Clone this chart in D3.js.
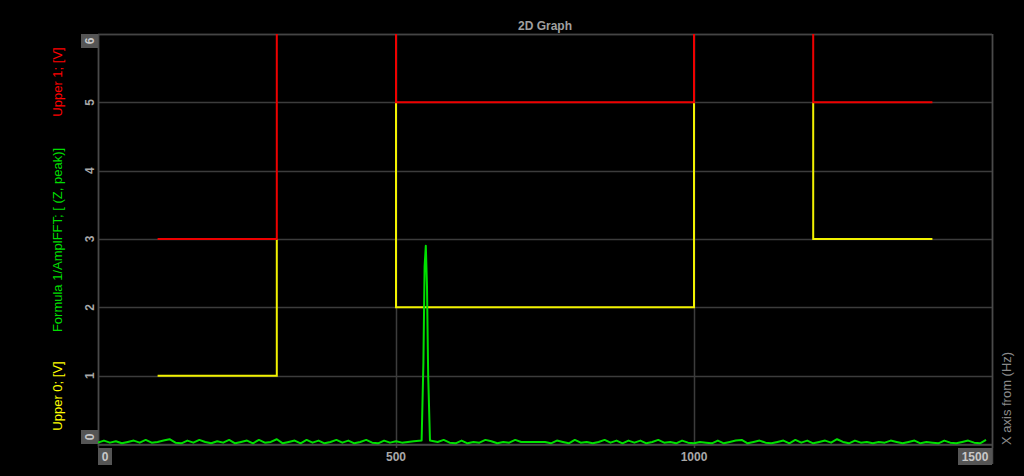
<!DOCTYPE html>
<html><head><meta charset="utf-8">
<script src="https://cdn.jsdelivr.net/npm/d3@7"></script>
<style>
html,body{margin:0;padding:0;background:#000;}
svg{display:block;font-family:"Liberation Sans",Arial,sans-serif;}
</style></head>
<body><svg id="chart" width="1024" height="476"></svg>
<script>
// ---- data ----
const title = "2D Graph";
const xTicks = [0, 500, 1000, 1500];
const yTicks = [0, 1, 2, 3, 4, 5, 6];
// Upper 1 limit line (values above 6 run off the top of the plot)
const upper1X = [100, 300, 300, null, 500, 500, 1000, 1000, null, 1200, 1200, 1400];
const upper1Y = [3, 3, 10, null, 10, 5, 5, 10, null, 10, 5, 5];
// Upper 0 limit line
const upper0X = [100, 300, 300, null, 500, 500, 1000, 1000, null, 1200, 1200, 1400];
const upper0Y = [1, 1, 3, null, 5, 2, 2, 5, null, 5, 3, 3];
// FFT amplitude, 10 Hz steps from 0 to 1500 Hz
const fftStep = 10;
const fftValues = [
 0.02,0.05,0.02,0.04,0.01,0.03,0.05,0.02,0.06,0.02,0.03,0.05,0.07,0.02,0.01,0.05,0.02,0.06,0.03,0.01,
 0.04,0.02,0.06,0.01,0.03,0.05,0.01,0.06,0.02,0.03,0.07,0.01,0.03,0.05,0.01,0.06,0.02,0.05,0.01,0.03,
 0.06,0.02,0.05,0.01,0.03,0.06,0.02,0.01,0.05,0.02,0.04,0.02,0.03,0.04,0.02,0.01,0.02,
 0.03,0.06,0.02,0.01,0.05,0.01,0.03,0.02,0.06,0.04,0.01,0.03,0.02,0.06,0.03,0.03,0.03,0.03,0.03,
 0.01,0.05,0.03,0.01,0.06,0.02,0.03,0.01,0.03,0.06,0.02,0.05,0.01,0.05,0.02,0.05,0.01,0.03,0.06,0.02,
 0.03,0.01,0.05,0.02,0.01,0.03,0.02,0.01,0.05,0.01,0.03,0.05,0.06,0.01,0.03,0.05,0.02,0.01,0.03,0.05,
 0.01,0.06,0.02,0.05,0.01,0.03,0.05,0.02,0.07,0.03,0.01,0.05,0.02,0.03,0.01,0.03,0.02,0.05,0.03,0.01,
 0.03,0.05,0.01,0.03,0.02,0.01,0.05,0.02,0.01,0.03,0.05,0.02,0.01,0.06
];
// spectral peak near 550 Hz
const peakFreq = [543, 546, 548, 550, 552, 554, 557];
const peakValues = [0.05, 1.2, 2.6, 2.9, 2.3, 1.0, 0.05];

(function () {
// ---- layout ----
const W = 1024, H = 476;
const pL = 98, pR = 992, pT = 34, pB = 444;
const svg = d3.select("#chart");
svg.append("rect").attr("width", W).attr("height", H).attr("fill", "#000");

const x = d3.scaleLinear().domain([0, 1500]).range([pL, pR]);
const y = d3.scaleLinear().domain([0, 6]).range([pB, pT]);

// grid
const grid = svg.append("g");
grid.selectAll("line.hy").data(yTicks).join("line")
  .attr("x1", pL).attr("x2", pR)
  .attr("y1", d => Math.round(y(d)) + 0.5).attr("y2", d => Math.round(y(d)) + 0.5)
  .attr("stroke", "#3c3c3c").attr("stroke-width", 1.5);
grid.selectAll("line.vx").data(xTicks).join("line")
  .attr("x1", d => Math.round(x(d)) + 0.5).attr("x2", d => Math.round(x(d)) + 0.5)
  .attr("y1", pT).attr("y2", pB + 4)
  .attr("stroke", "#3c3c3c").attr("stroke-width", 1.5);
// frame
svg.append("line").attr("x1", pL).attr("x2", pR).attr("y1", pT + 0.5).attr("y2", pT + 0.5)
  .attr("stroke", "#454545").attr("stroke-width", 1.5);
svg.append("line").attr("x1", pL + 0.5).attr("x2", pL + 0.5).attr("y1", pT).attr("y2", pB + 2)
  .attr("stroke", "#4a4a4a").attr("stroke-width", 1.5);
svg.append("line").attr("x1", pR + 0.5).attr("x2", pR + 0.5).attr("y1", pT).attr("y2", pB + 20)
  .attr("stroke", "#4a4a4a").attr("stroke-width", 1.5);
svg.append("line").attr("x1", pL).attr("x2", pR).attr("y1", pB + 1).attr("y2", pB + 1)
  .attr("stroke", "#4a4a4a").attr("stroke-width", 1.5);

// clip
svg.append("clipPath").attr("id", "clip").append("rect")
  .attr("x", pL).attr("y", pT).attr("width", pR - pL + 1).attr("height", pB - pT + 2);
const plot = svg.append("g").attr("clip-path", "url(#clip)");

function pairs(xs, ys) { return xs.map((v, i) => [v, ys[i]]); }
const line = d3.line().defined(d => d[0] !== null && d[1] !== null)
  .x(d => x(d[0])).y(d => y(d[1]));

plot.append("path").datum(pairs(upper0X, upper0Y)).attr("d", line)
  .attr("fill", "none").attr("stroke", "#f2f200").attr("stroke-width", 2);
plot.append("path").datum(pairs(upper1X, upper1Y)).attr("d", line)
  .attr("fill", "none").attr("stroke", "#ee0000").attr("stroke-width", 2);

let fft = fftValues.map((v, i) => [i * fftStep, v]);
fft = fft.filter(d => d[0] < 540 || d[0] > 560);
fft = fft.concat(pairs(peakFreq, peakValues)).sort((a, b) => a[0] - b[0]);
plot.append("path").datum(fft).attr("d", line)
  .attr("fill", "none").attr("stroke", "#00e000").attr("stroke-width", 2)
  .attr("stroke-linejoin", "round");

// y tick labels (rotated)
const yl = svg.append("g");
yTicks.forEach(t => {
  const cy = y(t);
  const isEnd = (t === 0 || t === 6);
  let ty = cy;
  if (t === 6) ty = pT + 7;
  if (t === 0) ty = pB - 7;
  if (isEnd) {
    yl.append("rect").attr("x", 81).attr("y", ty - 7).attr("width", 17).attr("height", 14).attr("fill", "#555");
  }
  yl.append("text").attr("transform", `translate(89.5,${ty}) rotate(-90)`)
    .attr("text-anchor", "middle").attr("dy", "0.36em")
    .attr("font-size", 12).attr("font-weight", "bold").attr("fill", isEnd ? "#c8c8c8" : "#a8a8a8").text(t);
});

// x tick labels
const xl = svg.append("g");
xTicks.forEach(t => {
  const cx = x(t);
  let tx = cx;
  if (t === 0) {
    xl.append("rect").attr("x", pL).attr("y", 448).attr("width", 14).attr("height", 17).attr("fill", "#555");
    tx = pL + 7;
  } else if (t === 1500) {
    xl.append("rect").attr("x", pR - 34).attr("y", 448).attr("width", 34).attr("height", 17).attr("fill", "#555");
    tx = pR - 17;
  }
  xl.append("text").attr("x", tx).attr("y", 461).attr("text-anchor", "middle")
    .attr("font-size", 12).attr("font-weight", "bold")
    .attr("fill", (t === 0 || t === 1500) ? "#c8c8c8" : "#a8a8a8").text(t);
});

// title
svg.append("text").attr("x", (pL + pR) / 2).attr("y", 30).attr("text-anchor", "middle")
  .attr("font-size", 12).attr("font-weight", "bold").attr("fill", "#a0a0a0").text(title);

// axis titles
function vtext(tx, ty, txt, color, anchor) {
  svg.append("text").attr("transform", `translate(${tx},${ty}) rotate(-90)`)
    .attr("text-anchor", anchor || "middle").attr("dy", "0.36em")
    .attr("font-size", 13).attr("fill", color).text(txt);
}
vtext(57, 82, "Upper 1; [V]", "#ff0000");
vtext(57, 240, "Formula 1/AmplFFT; [ (Z, peak)]", "#00dd00");
vtext(57, 396, "Upper 0; [V]", "#ffff00");
vtext(1006, 445, "X axis from (Hz)", "#8a8a8a", "start");
})();
</script></body></html>
